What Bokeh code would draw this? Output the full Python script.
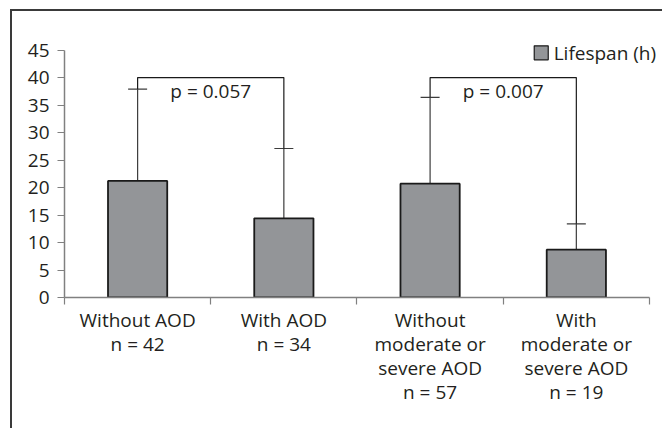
from bokeh.plotting import figure
from bokeh.models import (FixedTicker, Range1d, ColumnDataSource, Whisker, TeeHead)
from bokeh.core.properties import value
from bokeh.embed import file_html
from bokeh.resources import INLINE

# ---- data ----
categories = ["Without AOD\nn = 42", "With AOD\nn = 34",
              "Without\nmoderate or\nsevere AOD\nn = 57",
              "With\nmoderate or\nsevere AOD\nn = 19"]
lifespan = [21.2, 14.4, 20.7, 8.7]
sd_upper = [16.7, 12.7, 15.7, 4.7]
y_ticks = [0, 5, 10, 15, 20, 25, 30, 35, 40, 45]
pairs = [(0, 1), (2, 3)]
p_labels = ["p = 0.057", "p = 0.007"]
bracket_level = 40.0
legend_label = "Lifespan (h)"

FONT = "Open Sans"
TXT = "#231f20"

W, H = 652, 419
left, bottom = 52, 133
px_per_x = 145.75
px_per_y = 5.46
canvas_w, canvas_h = W - 2, H - 2

p = figure(width=W, height=H, output_backend="svg", toolbar_location=None,
           x_range=Range1d(0, (canvas_w - left) / px_per_x),
           y_range=Range1d(0, (canvas_h - bottom) / px_per_y),
           min_border_left=left, min_border_right=0, min_border_top=0,
           min_border_bottom=bottom)
p.outline_line_color = None
p.xgrid.visible = False
p.ygrid.visible = False
p.background_fill_color = "white"
p.margin = (9, 0, 0, 10)
p.styles = {"border-left": "2px solid #3a3a3a", "border-top": "2px solid #3a3a3a"}

n = len(categories)
xs = [i + 0.5 for i in range(n)]
tops = [v + e for v, e in zip(lifespan, sd_upper)]
src = ColumnDataSource(dict(x=xs, y=lifespan, top=tops))

p.vbar(x="x", top="y", bottom=0, width=0.405, source=src,
       fill_color="#939598", line_color="#1a1a1a", line_width=1.8)

wh = Whisker(base="x", lower="y", upper="top", source=src, dimension="height",
             line_color="#3c3c3c", line_width=1.2,
             upper_head=TeeHead(size=19, line_color="#3c3c3c", line_width=1.2),
             lower_head=None)
p.add_layout(wh)

# significance brackets
bx, by, tx = [], [], []
for a, b in pairs:
    bx.append([xs[a], xs[a], xs[b], xs[b]])
    by.append([tops[a], bracket_level, bracket_level, tops[b]])
    tx.append((xs[a] + xs[b]) / 2)
p.multi_line(bx, by, line_color="#1a1a1a", line_width=1.2)
p.text(x=tx, y=[37.5] * len(tx), text=p_labels, text_font=value(FONT),
       text_font_size="19px", text_align="center", text_baseline="middle",
       text_color=TXT)

# legend
p.scatter(x=[3.26], y=[44.5], marker="square", size=14,
          fill_color="#939598", line_color="#1a1a1a", line_width=1.2)
p.text(x=[3.345], y=[44.5], text=[legend_label], text_font=value(FONT),
       text_font_size="19px", text_align="left", text_baseline="middle",
       text_color=TXT)

# axes
ya = p.yaxis[0]
ya.ticker = FixedTicker(ticks=y_ticks)
ya.bounds = (0, 45)
ya.axis_line_color = "#808080"
ya.axis_line_width = 1.5
ya.major_tick_line_color = "#808080"
ya.major_tick_line_width = 1.2
ya.major_tick_out = 7
ya.major_tick_in = 0
ya.minor_tick_line_color = None
ya.major_label_text_font = FONT
ya.major_label_text_font_size = "19px"
ya.major_label_text_color = TXT
ya.major_label_standoff = 8

xa = p.xaxis[0]
xa.ticker = FixedTicker(ticks=xs, minor_ticks=list(range(n + 1)))
xa.bounds = (0, n)
xa.major_label_overrides = {x: c for x, c in zip(xs, categories)}
xa.axis_line_color = "#808080"
xa.axis_line_width = 1.5
xa.major_tick_out = 0
xa.major_tick_in = 0
xa.major_tick_line_color = None
xa.minor_tick_line_color = "#808080"
xa.minor_tick_line_width = 1.2
xa.minor_tick_out = 7
xa.minor_tick_in = 0
xa.major_label_text_font = FONT
xa.major_label_text_font_size = "19px"
xa.major_label_text_color = TXT
xa.major_label_text_line_height = 0.93
xa.major_label_standoff = 2
xa.major_label_orientation = "horizontal"

open("out.html", "w").write(file_html(p, INLINE))
